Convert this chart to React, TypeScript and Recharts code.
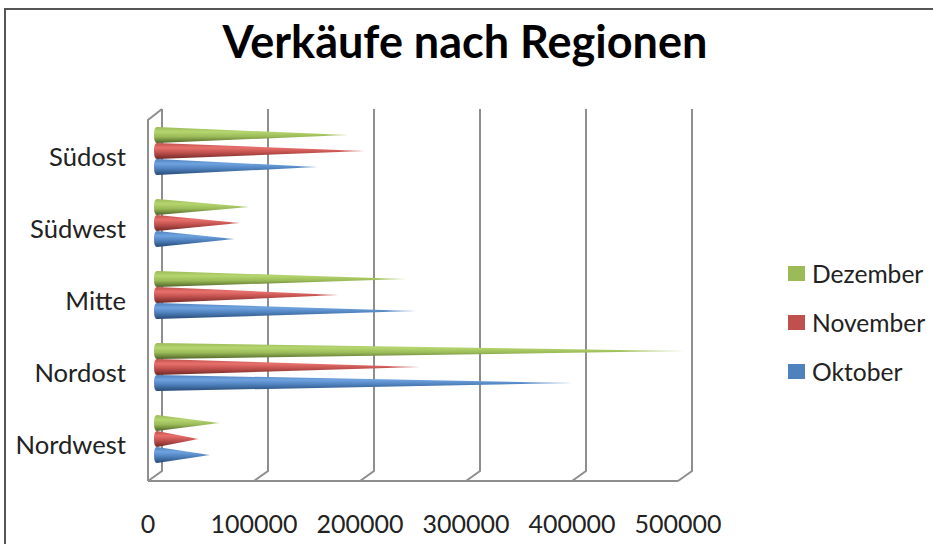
import { Bar, BarChart, CartesianGrid, Legend, XAxis, YAxis } from "recharts";

const regionen = ["Südost", "Südwest", "Mitte", "Nordost", "Nordwest"];
const dezember = [181000, 88000, 236000, 498000, 60000];
const november = [197000, 79000, 172000, 249000, 40000];
const oktober = [152000, 74000, 245000, 393000, 51000];
const xTicks = [0, 100000, 200000, 300000, 400000, 500000];

const data = regionen.map((region, i) => ({
  region,
  Dezember: dezember[i],
  November: november[i],
  Oktober: oktober[i],
}));

const reihen = [
  { name: "Dezember", id: "gruen", fill: "#9bbb59", hell: "#b5d56f", dunkel: "#4f6428" },
  { name: "November", id: "rot", fill: "#c0504d", hell: "#e8706c", dunkel: "#6f2826" },
  { name: "Oktober", id: "blau", fill: "#4f81bd", hell: "#6fa3df", dunkel: "#264a76" },
];

const font = "Lato, Carlito, sans-serif";
const wallColor = "#8e8e8e";

// Kegel statt Balken, wie das 3D-Diagramm aus Excel
function kegel(id: string) {
  return (props: any) => {
    const { x, y, width, height } = props;
    const links = x + 6;
    const mitte = y + height / 2;
    const d = `M${links + 3} ${y} L${links + width + 2} ${mitte} L${links + 3} ${y + height} Q${links} ${y + height} ${links} ${mitte} Q${links} ${y} ${links + 3} ${y} Z`;
    return (
      <g>
        <path d={d} fill={`url(#${id})`} />
        <path d={d} fill="url(#spitze)" />
      </g>
    );
  };
}

// Rückwand und Boden des 3D-Rahmens, an den Gitterlinien der x-Achse ausgerichtet
function wand(props: any) {
  const { x1, y2, index } = props;
  const hinten = x1 + 14;
  return (
    <g key={`wand-${index}`} fill="none" stroke={wallColor} strokeWidth={2}>
      <path d={`M${hinten} 109 V${y2 - 10} L${x1} ${y2}`} />
      {index === 0 && <path d={`M${x1} ${y2} V120 L${hinten} 109`} />}
    </g>
  );
}

function xTick(props: any) {
  const { x, payload } = props;
  return (
    <text x={x} y={533} textAnchor="middle" fontFamily={font} fontSize={25} fill="#222">
      {payload.value}
    </text>
  );
}

function yTick(props: any) {
  const { y, payload } = props;
  return (
    <text x={126} y={y + 15} textAnchor="end" fontFamily={font} fontSize={25.6} fill="#222">
      {payload.value}
    </text>
  );
}

function legende() {
  return (
    <div style={{ fontFamily: font, fontSize: 24.6, color: "#222" }}>
      {reihen.map((r) => (
        <div key={r.name} style={{ display: "flex", alignItems: "center", height: 49, whiteSpace: "nowrap" }}>
          <span style={{ width: 17, height: 15, background: r.fill, marginRight: 7 }} />
          {r.name}
        </div>
      ))}
    </div>
  );
}

export default function App() {
  return (
    <div style={{ position: "absolute", left: 0, top: 0, width: 933, height: 544, overflow: "hidden", background: "#fff" }}>
      <div style={{ position: "absolute", left: 4, top: 8, width: 940, height: 560, border: "2px solid #555" }} />
      <BarChart
        width={933}
        height={544}
        data={data}
        layout="vertical"
        barSize={16}
        barGap={0}
        margin={{ top: 115, right: 110, bottom: 0, left: 0 }}
        style={{ position: "absolute", left: 0, top: 0 }}
      >
        <defs>
          {reihen.map((r) => (
            <linearGradient key={r.id} id={r.id} x1="0" y1="0" x2="0" y2="1">
              <stop offset="0" stopColor={r.fill} />
              <stop offset="0.3" stopColor={r.hell} />
              <stop offset="0.6" stopColor={r.fill} />
              <stop offset="1" stopColor={r.dunkel} />
            </linearGradient>
          ))}
          <linearGradient id="spitze" x1="0" y1="0" x2="1" y2="0">
            <stop offset="0.88" stopColor="#fff" stopOpacity={0} />
            <stop offset="1" stopColor="#fff" stopOpacity={0.7} />
          </linearGradient>
        </defs>
        <CartesianGrid horizontal={false} vertical={wand} />
        <XAxis
          type="number"
          domain={[0, 500000]}
          ticks={xTicks}
          height={63}
          tick={xTick}
          tickLine={false}
          axisLine={{ stroke: wallColor, strokeWidth: 2 }}
        />
        <YAxis
          type="category"
          dataKey="region"
          width={148}
          padding={{ top: 0, bottom: 6 }}
          tick={yTick}
          tickLine={false}
          axisLine={false}
        />
        {reihen.map((r) => (
          <Bar key={r.name} dataKey={r.name} fill={r.fill} shape={kegel(r.id)} isAnimationActive={false} />
        ))}
        <text x={465} y={58} textAnchor="middle" fontFamily={font} fontSize={45} fontWeight={700} fill="#000">
          Verkäufe nach Regionen
        </text>
        <Legend
          layout="vertical"
          align="right"
          verticalAlign="top"
          content={legende}
          wrapperStyle={{ position: "absolute", left: 788, top: 249, width: 145 }}
        />
      </BarChart>
    </div>
  );
}
